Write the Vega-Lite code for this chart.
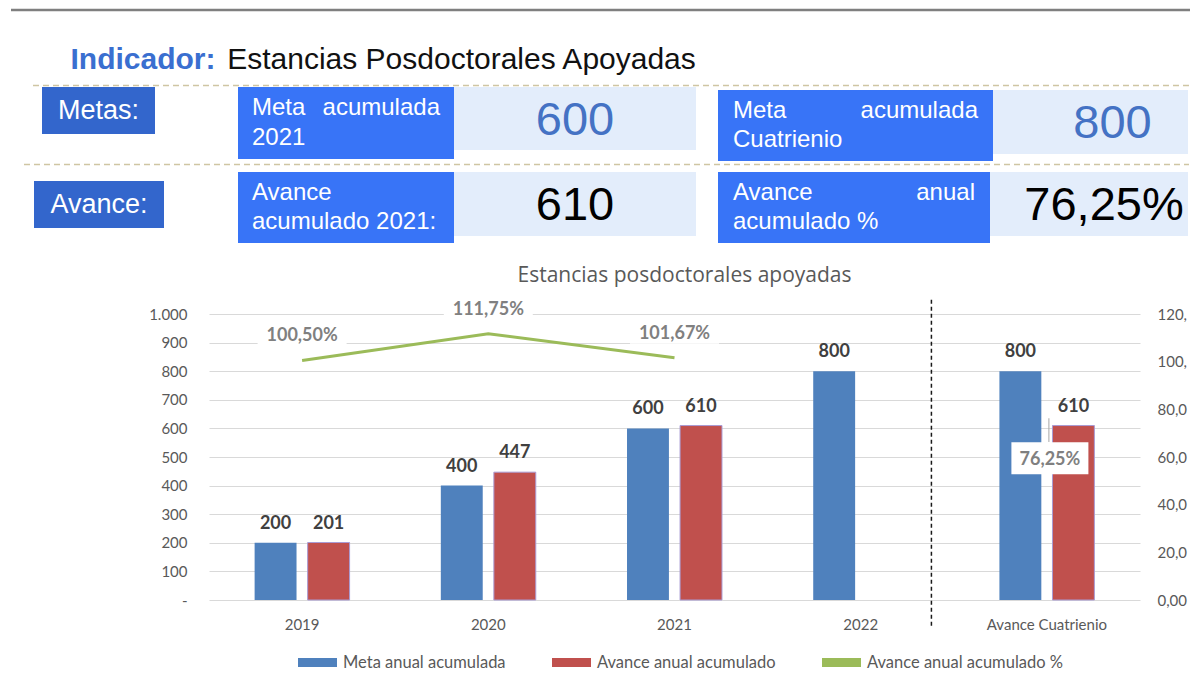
{
  "$schema": "https://vega.github.io/schema/vega-lite/v6.json",
  "background": "white",
  "padding": {"left": 0, "top": 8, "right": 0, "bottom": 0},
  "spacing": 0,
  "config": {
    "view": {"stroke": null},
    "locale": {"number": {"decimal": ",", "thousands": ".", "grouping": [3], "currency": ["$", ""]}}
  },
  "datasets": {
    "bars": [
      {"cat": "2019", "serie": "Meta anual acumulada", "valor": 200},
      {"cat": "2019", "serie": "Avance anual acumulado", "valor": 201},
      {"cat": "2020", "serie": "Meta anual acumulada", "valor": 400},
      {"cat": "2020", "serie": "Avance anual acumulado", "valor": 447},
      {"cat": "2021", "serie": "Meta anual acumulada", "valor": 600},
      {"cat": "2021", "serie": "Avance anual acumulado", "valor": 610},
      {"cat": "2022", "serie": "Meta anual acumulada", "valor": 800},
      {"cat": "Avance Cuatrienio", "serie": "Meta anual acumulada", "valor": 800},
      {"cat": "Avance Cuatrienio", "serie": "Avance anual acumulado", "valor": 610}
    ],
    "pct": [
      {"cat": "2019", "pct": 1.005},
      {"cat": "2020", "pct": 1.1175},
      {"cat": "2021", "pct": 1.0167},
      {"cat": "Avance Cuatrienio", "pct": 0.7625}
    ],
    "header": [
      {"cell": "ind", "text": "Indicador:"},
      {"cell": "nombre", "text": "Estancias Posdoctorales Apoyadas"},
      {"cell": "metas", "text": "Metas:"},
      {"cell": "avance", "text": "Avance:"},
      {"cell": "lab1", "text": "Meta", "side": "left", "line": 1},
      {"cell": "lab1", "text": "acumulada", "side": "right", "line": 1},
      {"cell": "lab1", "text": "2021", "side": "left", "line": 2},
      {"cell": "val1", "text": "600"},
      {"cell": "lab2", "text": "Meta", "side": "left", "line": 1},
      {"cell": "lab2", "text": "acumulada", "side": "right", "line": 1},
      {"cell": "lab2", "text": "Cuatrienio", "side": "left", "line": 2},
      {"cell": "val2", "text": "800"},
      {"cell": "lab3", "text": "Avance", "side": "left", "line": 1},
      {"cell": "lab3", "text": "acumulado 2021:", "side": "left", "line": 2},
      {"cell": "val3", "text": "610"},
      {"cell": "lab4", "text": "Avance", "side": "left", "line": 1},
      {"cell": "lab4", "text": "anual", "side": "right", "line": 1},
      {"cell": "lab4", "text": "acumulado %", "side": "left", "line": 2},
      {"cell": "val4", "text": "76,25%"}
    ]
  },
  "vconcat": [
    {
      "spacing": 0,
      "hconcat": [
        {"width": 9, "height": 2, "data": {"values": [{}]}, "mark": {"type": "point", "size": 0, "opacity": 0}, "encoding": {}},
        {"width": 1179, "height": 2, "data": {"values": [{}]}, "mark": {"type": "rule", "color": "#7f7f7f", "strokeWidth": 2.5},
         "encoding": {"x": {"datum": 0, "type": "quantitative", "scale": {"domain": [0, 1], "nice": false, "zero": false}, "axis": null}, "x2": {"datum": 1}}}
      ]
    },
    {"width": 1, "height": 24, "data": {"values": [{}]}, "mark": {"type": "point", "size": 0, "opacity": 0}, "encoding": {}},
    {
      "spacing": 0,
      "hconcat": [
        {"width": 70, "height": 48, "data": {"values": [{}]}, "mark": {"type": "point", "size": 0, "opacity": 0}, "encoding": {}},
        {"width": 146, "height": 48, "data": {"name": "header"}, "transform": [{"filter": "datum.cell === 'ind'"}],
         "mark": {"type": "text", "font": "Liberation Sans", "fontSize": 30, "fontWeight": "bold", "color": "#3a6fd0", "baseline": "middle"},
         "encoding": {"text": {"field": "text"}}},
        {"width": 10, "height": 48, "data": {"values": [{}]}, "mark": {"type": "point", "size": 0, "opacity": 0}, "encoding": {}},
        {"width": 467, "height": 48, "data": {"name": "header"}, "transform": [{"filter": "datum.cell === 'nombre'"}],
         "mark": {"type": "text", "font": "Liberation Sans", "fontSize": 30, "color": "#111111", "baseline": "middle"},
         "encoding": {"text": {"field": "text"}}}
      ]
    },
    {
      "spacing": 0,
      "hconcat": [
        {"width": 32, "height": 1, "data": {"values": [{}]}, "mark": {"type": "point", "size": 0, "opacity": 0}, "encoding": {}},
        {"width": 1156, "height": 1, "data": {"values": [{}]}, "mark": {"type": "rule", "color": "#cfc5a3", "strokeWidth": 1.5, "strokeDash": [6, 4]},
         "encoding": {"x": {"datum": 0, "type": "quantitative", "scale": {"domain": [0, 1], "nice": false, "zero": false}, "axis": null}, "x2": {"datum": 1}}}
      ]
    },
    {
      "spacing": 0,
      "hconcat": [
        {"width": 42, "height": 1, "data": {"values": [{}]}, "mark": {"type": "point", "size": 0, "opacity": 0}, "encoding": {}},
        {"width": 113, "height": 47, "view": {"fill": "#3366cc", "stroke": null}, "data": {"name": "header"}, "transform": [{"filter": "datum.cell === 'metas'"}],
         "mark": {"type": "text", "font": "Liberation Sans", "fontSize": 27, "color": "white", "baseline": "middle"},
         "encoding": {"text": {"field": "text"}}},
        {"width": 83, "height": 1, "data": {"values": [{}]}, "mark": {"type": "point", "size": 0, "opacity": 0}, "encoding": {}},
        {"width": 216, "height": 72, "view": {"fill": "#3874f7", "stroke": null}, "data": {"name": "header"}, "transform": [{"filter": "datum.cell === 'lab1'"}],
         "mark": {"type": "text", "font": "Liberation Sans", "fontSize": 24, "color": "white", "baseline": "middle", "align": {"expr": "datum.side === 'right' ? 'right' : 'left'"}},
         "encoding": {
           "x": {"field": "side", "type": "nominal", "scale": {"type": "point", "domain": ["left", "right"], "padding": 0.0745}, "axis": null},
           "y": {"field": "line", "type": "ordinal", "scale": {"type": "point", "domain": [1, 2], "padding": 0.741}, "axis": null},
           "text": {"field": "text"}}},
        {"width": 242, "height": 63, "view": {"fill": "#e3edfb", "stroke": null}, "data": {"name": "header"}, "transform": [{"filter": "datum.cell === 'val1'"}],
         "mark": {"type": "text", "font": "Liberation Sans", "fontSize": 47, "color": "#4472c4", "baseline": "middle", "dy": 2},
         "encoding": {"text": {"field": "text"}}},
        {"width": 22, "height": 1, "data": {"values": [{}]}, "mark": {"type": "point", "size": 0, "opacity": 0}, "encoding": {}},
        {
          "spacing": 0,
          "vconcat": [
            {"width": 1, "height": 3, "data": {"values": [{}]}, "mark": {"type": "point", "size": 0, "opacity": 0}, "encoding": {}},
            {
              "spacing": 0,
              "hconcat": [
                {"width": 275, "height": 71, "view": {"fill": "#3874f7", "stroke": null}, "data": {"name": "header"}, "transform": [{"filter": "datum.cell === 'lab2'"}],
                 "mark": {"type": "text", "font": "Liberation Sans", "fontSize": 24, "color": "white", "baseline": "middle", "align": {"expr": "datum.side === 'right' ? 'right' : 'left'"}},
                 "encoding": {
                   "x": {"field": "side", "type": "nominal", "scale": {"type": "point", "domain": ["left", "right"], "padding": 0.0612}, "axis": null},
                   "y": {"field": "line", "type": "ordinal", "scale": {"type": "point", "domain": [1, 2], "padding": 0.741}, "axis": null},
                   "text": {"field": "text"}}},
                {"width": 195, "height": 64, "view": {"fill": "#e3edfb", "stroke": null}, "data": {"name": "header"}, "transform": [{"filter": "datum.cell === 'val2'"}],
                 "mark": {"type": "text", "font": "Liberation Sans", "fontSize": 47, "color": "#4472c4", "baseline": "middle", "dx": 22, "dy": 2},
                 "encoding": {"text": {"field": "text"}}}
              ]
            }
          ]
        }
      ]
    },
    {"width": 1, "height": 2, "data": {"values": [{}]}, "mark": {"type": "point", "size": 0, "opacity": 0}, "encoding": {}},
    {
      "spacing": 0,
      "hconcat": [
        {"width": 23, "height": 1, "data": {"values": [{}]}, "mark": {"type": "point", "size": 0, "opacity": 0}, "encoding": {}},
        {"width": 1165, "height": 1, "data": {"values": [{}]}, "mark": {"type": "rule", "color": "#cfc5a3", "strokeWidth": 1.5, "strokeDash": [6, 4]},
         "encoding": {"x": {"datum": 0, "type": "quantitative", "scale": {"domain": [0, 1], "nice": false, "zero": false}, "axis": null}, "x2": {"datum": 1}}}
      ]
    },
    {"width": 1, "height": 6, "data": {"values": [{}]}, "mark": {"type": "point", "size": 0, "opacity": 0}, "encoding": {}},
    {
      "spacing": 0,
      "hconcat": [
        {"width": 34, "height": 1, "data": {"values": [{}]}, "mark": {"type": "point", "size": 0, "opacity": 0}, "encoding": {}},
        {
          "spacing": 0,
          "vconcat": [
            {"width": 1, "height": 9, "data": {"values": [{}]}, "mark": {"type": "point", "size": 0, "opacity": 0}, "encoding": {}},
            {"width": 130, "height": 47, "view": {"fill": "#3366cc", "stroke": null}, "data": {"name": "header"}, "transform": [{"filter": "datum.cell === 'avance'"}],
             "mark": {"type": "text", "font": "Liberation Sans", "fontSize": 27, "color": "white", "baseline": "middle"},
             "encoding": {"text": {"field": "text"}}}
          ]
        },
        {"width": 74, "height": 1, "data": {"values": [{}]}, "mark": {"type": "point", "size": 0, "opacity": 0}, "encoding": {}},
        {"width": 216, "height": 71, "view": {"fill": "#3874f7", "stroke": null}, "data": {"name": "header"}, "transform": [{"filter": "datum.cell === 'lab3'"}],
         "mark": {"type": "text", "font": "Liberation Sans", "fontSize": 24, "color": "white", "baseline": "middle", "align": {"expr": "datum.side === 'right' ? 'right' : 'left'"}},
         "encoding": {
           "x": {"field": "side", "type": "nominal", "scale": {"type": "point", "domain": ["left", "right"], "padding": 0.0745}, "axis": null},
           "y": {"field": "line", "type": "ordinal", "scale": {"type": "point", "domain": [1, 2], "padding": 0.741}, "axis": null},
           "text": {"field": "text"}}},
        {"width": 242, "height": 64, "view": {"fill": "#e3edfb", "stroke": null}, "data": {"name": "header"}, "transform": [{"filter": "datum.cell === 'val3'"}],
         "mark": {"type": "text", "font": "Liberation Sans", "fontSize": 47, "color": "#000000", "baseline": "middle", "dy": 2},
         "encoding": {"text": {"field": "text"}}},
        {"width": 22, "height": 1, "data": {"values": [{}]}, "mark": {"type": "point", "size": 0, "opacity": 0}, "encoding": {}},
        {"width": 272, "height": 71, "view": {"fill": "#3874f7", "stroke": null}, "data": {"name": "header"}, "transform": [{"filter": "datum.cell === 'lab4'"}],
         "mark": {"type": "text", "font": "Liberation Sans", "fontSize": 24, "color": "white", "baseline": "middle", "align": {"expr": "datum.side === 'right' ? 'right' : 'left'"}},
         "encoding": {
           "x": {"field": "side", "type": "nominal", "scale": {"type": "point", "domain": ["left", "right"], "padding": 0.062}, "axis": null},
           "y": {"field": "line", "type": "ordinal", "scale": {"type": "point", "domain": [1, 2], "padding": 0.741}, "axis": null},
           "text": {"field": "text"}}},
        {"width": 198, "height": 64, "view": {"fill": "#e3edfb", "stroke": null}, "data": {"name": "header"}, "transform": [{"filter": "datum.cell === 'val4'"}],
         "mark": {"type": "text", "font": "Liberation Sans", "fontSize": 47, "color": "#000000", "baseline": "middle", "dx": 15, "dy": 2},
         "encoding": {"text": {"field": "text"}}}
      ]
    },
    {"width": 1, "height": 21, "data": {"values": [{}]}, "mark": {"type": "point", "size": 0, "opacity": 0}, "encoding": {}},
    {
      "spacing": 0,
      "hconcat": [
        {"width": 148, "height": 1, "data": {"values": [{}]}, "mark": {"type": "point", "size": 0, "opacity": 0}, "encoding": {}},
        {
          "width": 931, "height": 286,
          "title": {"text": "Estancias posdoctorales apoyadas", "font": "Open Sans", "fontSize": 21, "fontWeight": "normal", "color": "#595959", "anchor": "middle", "frame": "group", "offset": -5, "baseline": "alphabetic", "dx": 10},
          "resolve": {"scale": {"y": "independent"}, "axis": {"y": "independent"}},
          "layer": [
            {
              "data": {"name": "bars"},
              "encoding": {
                "x": {"field": "cat", "type": "nominal", "sort": null,
                      "scale": {"domain": ["2019", "2020", "2021", "2022", "Avance Cuatrienio"], "paddingInner": 0.49, "paddingOuter": 0.245},
                      "axis": {"title": null, "domain": false, "ticks": false, "labelPadding": 17, "labelFont": "Lato", "labelFontSize": 15, "labelColor": "#595959", "labelAngle": 0}},
                "y": {"field": "valor", "type": "quantitative",
                      "scale": {"domain": [0, 1000], "nice": false},
                      "axis": {"orient": "left", "title": null, "values": [0, 100, 200, 300, 400, 500, 600, 700, 800, 900, 1000],
                               "labelExpr": "datum.value === 0 ? '-' : format(datum.value, ',')",
                               "grid": true, "gridColor": "#d9d9d9", "gridWidth": 1, "domain": false, "ticks": false, "labelPadding": 22,
                               "labelFont": "Lato", "labelFontSize": 15, "labelColor": "#595959"}}
              },
              "layer": [
                {
                  "mark": {"type": "bar"},
                  "encoding": {
                    "xOffset": {"field": "serie", "type": "nominal", "scale": {"domain": ["Meta anual acumulada", "Avance anual acumulado"], "paddingInner": 0.21, "paddingOuter": 0}},
                    "color": {"field": "serie", "type": "nominal",
                              "scale": {"domain": ["Meta anual acumulada", "Avance anual acumulado", "Avance anual acumulado %"], "range": ["#4f81bd", "#c0504d", "#9bbb59"]},
                              "legend": {"orient": "none", "legendX": 298, "legendY": 634, "direction": "horizontal", "title": null, "padding": 0,
                                         "symbolType": "M-1,-0.23H1V0.23H-1Z", "symbolSize": 1521, "symbolStrokeWidth": 0,
                                         "labelFont": "Lato", "labelFontSize": 16.5, "labelColor": "#595959", "labelLimit": 400, "columnPadding": 46, "labelOffset": 6}},
                    "stroke": {"condition": {"test": "datum.serie === 'Avance anual acumulado'", "value": "#a99bd4"}, "value": "transparent"}
                  }
                },
                {
                  "mark": {"type": "text", "font": "Lato", "fontSize": 18, "fontWeight": "bold", "color": "#404040", "baseline": "alphabetic", "dy": -14},
                  "encoding": {
                    "xOffset": {"field": "serie", "type": "nominal"},
                    "text": {"field": "valor", "type": "quantitative", "format": "d"}
                  }
                },
                {
                  "transform": [{"filter": "datum.cat === 'Avance Cuatrienio' && datum.serie === 'Meta anual acumulada'"}],
                  "mark": {"type": "rule", "color": "#1a1a1a", "strokeWidth": 1.5, "strokeDash": [4, 3], "xOffset": -68},
                  "encoding": {"x": {"field": "cat", "type": "nominal", "bandPosition": 0}, "y": {"datum": 1050}, "y2": {"datum": -100}}
                }
              ]
            },
            {
              "data": {"name": "pct"},
              "encoding": {
                "x": {"field": "cat", "type": "nominal", "sort": null},
                "y": {"field": "pct", "type": "quantitative",
                      "scale": {"domain": [0, 1.2], "nice": false},
                      "axis": {"orient": "right", "title": null, "values": [0, 0.2, 0.4, 0.6, 0.8, 1, 1.2],
                               "labelExpr": "slice(format(datum.value, '.2%'), 0, 4)",
                               "grid": false, "domain": false, "ticks": false, "labelPadding": 17,
                               "labelFont": "Lato", "labelFontSize": 15, "labelColor": "#595959"}}
              },
              "layer": [
                {
                  "transform": [{"filter": "datum.cat !== 'Avance Cuatrienio'"}],
                  "mark": {"type": "line", "strokeWidth": 3},
                  "encoding": {"color": {"datum": "Avance anual acumulado %"}}
                },
                {
                  "transform": [{"filter": "datum.cat !== 'Avance Cuatrienio'"}],
                  "mark": {"type": "bar", "color": "white", "width": 89, "yOffset": -36, "y2Offset": -14},
                  "encoding": {"y2": {"field": "pct"}}
                },
                {
                  "transform": [{"filter": "datum.cat !== 'Avance Cuatrienio'"}],
                  "mark": {"type": "text", "font": "Lato", "fontSize": 18, "fontWeight": "bold", "color": "#808080", "baseline": "middle", "yOffset": -24},
                  "encoding": {"text": {"field": "pct", "type": "quantitative", "format": ".2%"}}
                },
                {
                  "transform": [{"filter": "datum.cat === 'Avance Cuatrienio'"}],
                  "mark": {"type": "rule", "color": "#a6a6a6", "strokeWidth": 1, "xOffset": 2},
                  "encoding": {"y2": {"datum": 0.663}}
                },
                {
                  "transform": [{"filter": "datum.cat === 'Avance Cuatrienio'"}],
                  "mark": {"type": "bar", "color": "white", "width": 77, "xOffset": 3, "yOffset": 24, "y2Offset": 56},
                  "encoding": {"y2": {"field": "pct"}}
                },
                {
                  "transform": [{"filter": "datum.cat === 'Avance Cuatrienio'"}],
                  "mark": {"type": "text", "font": "Lato", "fontSize": 18, "fontWeight": "bold", "color": "#808080", "baseline": "middle", "xOffset": 3, "yOffset": 42},
                  "encoding": {"text": {"field": "pct", "type": "quantitative", "format": ".2%"}}
                }
              ]
            }
          ]
        }
      ]
    }
  ]
}
